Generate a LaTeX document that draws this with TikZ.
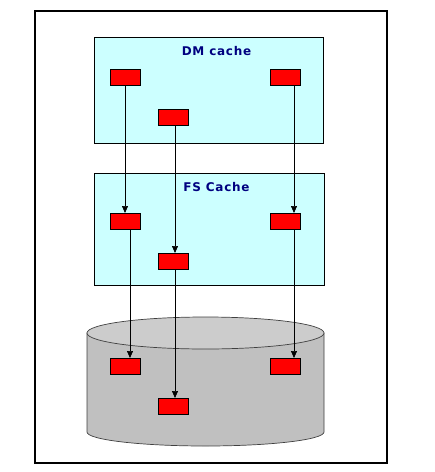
\documentclass[tikz,border=0pt]{standalone}
\usepackage{fontspec}
\setmainfont{DejaVu Sans}
\usetikzlibrary{arrows.meta}
\definecolor{cachefill}{HTML}{CCFFFF}
\definecolor{titleblue}{HTML}{000080}
\definecolor{diskbody}{HTML}{C0C0C0}
\definecolor{disktop}{HTML}{CCCCCC}
\definecolor{diskline}{HTML}{404040}
\tikzset{
  cachebox/.style={draw=black, line width=0.9pt, fill=cachefill},
  blk/.style={draw=black, line width=0.7pt, fill=red, minimum width=30pt, minimum height=16pt, inner sep=0pt, outer sep=0pt},
  ttl/.style={font=\bfseries\fontsize{12}{14}\selectfont\addfontfeature{LetterSpace=6}, text=titleblue, inner sep=0pt},
  flow/.style={draw=black, line width=0.7pt, -{Triangle[width=6pt,length=7pt]}},
}
\begin{document}
\begin{tikzpicture}[x=1pt,y=-1pt]
\useasboundingbox (0,0) rectangle (435,472);
% outer frame
\draw[line width=2.5pt] (35,11) rectangle (387,463);
% cache boxes
\path[cachebox] (94,37) rectangle (323,143);
\node[ttl] (dmt) at (216.5,51.5) {DM cache};
\path[cachebox] (94,173) rectangle (324,285);
\node[ttl] (fst) at (216.5,187) {FS Cache};
% disk cylinder
\filldraw[fill=diskbody, draw=diskline, line width=0.7pt]
  (87,333) -- (87,432) arc[start angle=180, end angle=360, x radius=118.5, y radius=-14] -- (324,333) -- cycle;
\filldraw[fill=disktop, draw=diskline, line width=0.7pt] (205.5,333) ellipse[x radius=118.5, y radius=16];
% blocks
\node[blk] (d1) at (125,77) {};
\node[blk] (d2) at (173,117.5) {};
\node[blk] (d3) at (285,77) {};
\node[blk] (f1) at (125,221) {};
\node[blk] (f2) at (173,261) {};
\node[blk] (f3) at (285,221) {};
\node[blk] (k1) at (125,366) {};
\node[blk] (k2) at (173,406) {};
\node[blk] (k3) at (285,366) {};
% connectors
\draw[flow] (d1.south) -- (f1.north);
\draw[flow] ([xshift=5pt]f1.south) -- ([xshift=5pt]k1.north);
\draw[flow] ([xshift=2pt]d2.south) -- ([xshift=2pt]f2.north);
\draw[flow] ([xshift=2pt]f2.south) -- ([xshift=2pt]k2.north);
\draw[flow] ([xshift=9pt]d3.south) -- ([xshift=9pt]f3.north);
\draw[flow] ([xshift=9pt]f3.south) -- ([xshift=9pt]k3.north);
\end{tikzpicture}
\end{document}
